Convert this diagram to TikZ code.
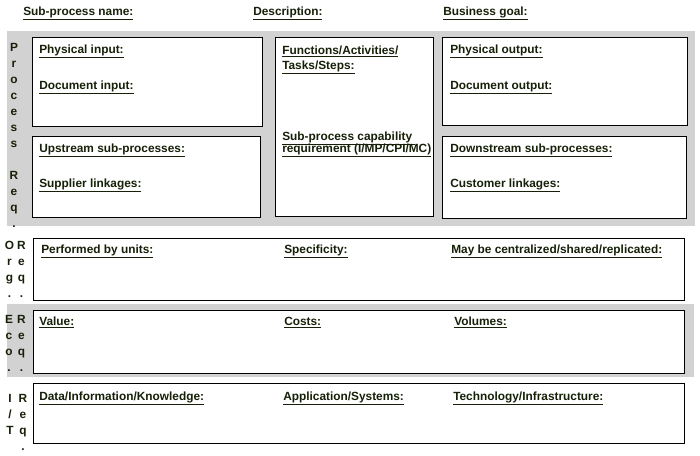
\documentclass[tikz,border=0pt]{standalone}
\usepackage{fontspec}
\setmainfont{Liberation Sans}
\definecolor{labelink}{RGB}{22,32,8}
\definecolor{bandgray}{RGB}{210,210,210}
\tikzset{
    field/.style={inner sep=0pt, anchor=base west, text=labelink,
        font=\fontsize{8.9}{10}\selectfont\bfseries},
    sideletter/.style={inner sep=0pt, anchor=base, text=labelink,
        font=\fontsize{8.9}{10}\selectfont\bfseries},
    band/.style={fill=bandgray, draw=none},
    panel/.style={fill=white, draw=black, line width=0.75pt}
}
\begin{document}
\begin{tikzpicture}[x=0.75pt, y=-0.75pt]
    \useasboundingbox (0,0) rectangle (700,455);

    % Header
    \node[field] (spname) at (23,15) {\underline{Sub-process name:}};
    \node[field] (descr) at (253,15) {\underline{Description:}};
    \node[field] (goal) at (443,15) {\underline{Business goal:}};

    % Shaded bands
    \fill[band] (7,31) rectangle (695,226);
    \fill[band] (7,304) rectangle (694,377);

    % Process panels
    \draw[panel] (32,37) rectangle (262,126);
    \draw[panel] (32,136) rectangle (260,217);
    \draw[panel] (275,37) rectangle (433,216);
    \draw[panel] (442,37) rectangle (687,125);
    \draw[panel] (442,136) rectangle (686,218);

    % Lower panels
    \draw[panel] (33,238) rectangle (684,300);
    \draw[panel] (33,310) rectangle (684,373);
    \draw[panel] (33,383) rectangle (684,443);

    % Process fields
    \node[field] (physin) at (39,53) {\underline{Physical input:}};
    \node[field] (docin) at (39,89) {\underline{Document input:}};
    \node[field] (upstream) at (39,152) {\underline{Upstream sub-processes:}};
    \node[field] (supplier) at (39,187) {\underline{Supplier linkages:}};
    \node[field] (funcs) at (282,54) {\underline{Functions/Activities/}};
    \node[field] (tasks) at (282,69) {\underline{Tasks/Steps:}};
    \node[field] (capab) at (282,140) {\underline{Sub-process capability\ }};
    \node[field] (requir) at (282,152) {\underline{requirement (I/MP/CPI/MC)}};
    \node[field] (physout) at (450,53) {\underline{Physical output:}};
    \node[field] (docout) at (450,89) {\underline{Document output:}};
    \node[field] (downstream) at (450,152) {\underline{Downstream sub-processes:}};
    \node[field] (customer) at (450,187) {\underline{Customer linkages:}};

    % Organisation fields
    \node[field] (units) at (41,253) {\underline{Performed by units:}};
    \node[field] (specif) at (284,253) {\underline{Specificity:}};
    \node[field] (shared) at (451,253) {\underline{May be centralized/shared/replicated:}};

    % Economic fields
    \node[field] (value) at (39,325) {\underline{Value:}};
    \node[field] (costs) at (284,325) {\underline{Costs:}};
    \node[field] (volumes) at (454,325) {\underline{Volumes:}};

    % IT fields
    \node[field] (data) at (39,400) {\underline{Data/Information/Knowledge:}};
    \node[field] (apps) at (283,400) {\underline{Application/Systems:}};
    \node[field] (techno) at (453,400) {\underline{Technology/Infrastructure:}};

    % Side labels
    \foreach \ch [count=\i] in {P,r,o,c,e,s,s,{},R,e,q,.}
        \node[sideletter] (proc\i) at (14,35+16*\i) {\ch};
    \foreach \ch [count=\i] in {O,r,g,.}
        \node[sideletter] (orga\i) at (9.5,233+16*\i) {\ch};
    \foreach \ch [count=\i] in {E,c,o,.}
        \node[sideletter] (econ\i) at (9,307+16*\i) {\ch};
    \foreach \ch [count=\i] in {I,/,T}
        \node[sideletter] (info\i) at (10,386+16*\i) {\ch};
    \foreach \ch [count=\i] in {R,e,q,.}
        \node[sideletter] (orgb\i) at (21.5,233+16*\i) {\ch};
    \foreach \ch [count=\i] in {R,e,q,.}
        \node[sideletter] (ecob\i) at (21.5,307+16*\i) {\ch};
    \foreach \ch [count=\i] in {R,e,q,.}
        \node[sideletter] (infob\i) at (23,386+16*\i) {\ch};
\end{tikzpicture}
\end{document}
